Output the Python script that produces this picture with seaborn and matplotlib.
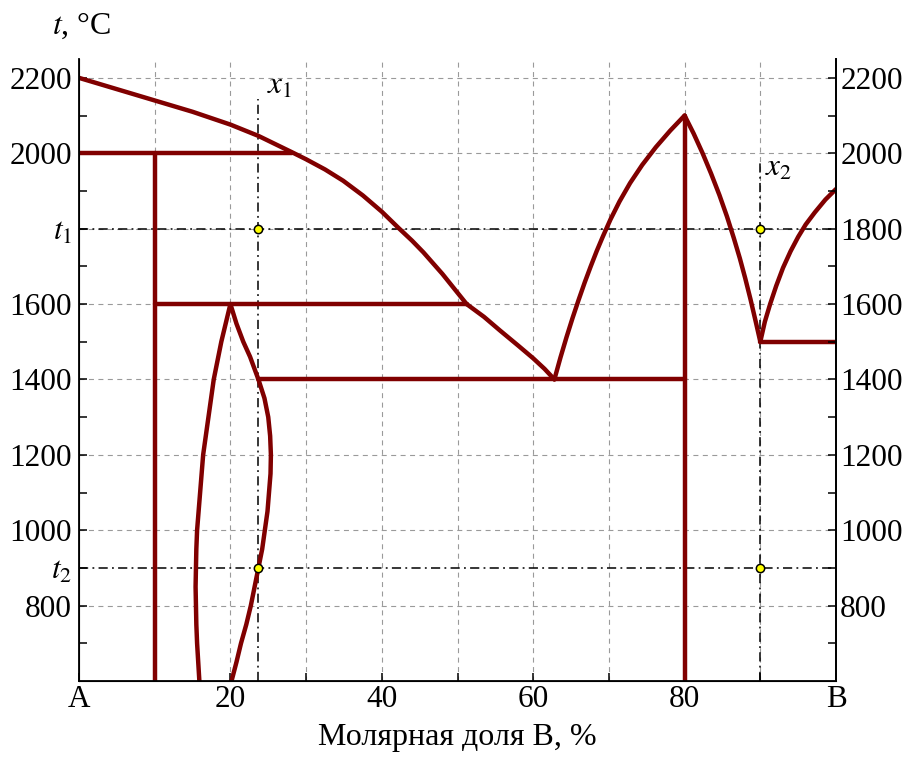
import numpy as np
import pandas as pd
import matplotlib.pyplot as plt
import seaborn as sns

# Кривые фазовой диаграммы (x - мол. доля B, %, t - °C)
liq1_x = [0, 5, 10, 15, 20, 23.7, 28.2, 30, 32.5, 34.9, 37.5, 40, 42.2, 44, 45.5, 48, 50, 51.2]
liq1_t = [2200, 2170, 2140, 2110, 2076, 2046, 2002, 1984, 1957, 1927, 1888, 1845, 1802,
          1768, 1737, 1680, 1630, 1600]
liq2_x = [51.2, 53.5, 55.6, 58, 60, 61.5, 62.8]
liq2_t = [1600, 1566, 1530, 1490, 1456, 1428, 1400]
liq3_x = [62.8, 63.6, 64.4, 65.2, 66.0, 66.8, 67.6, 68.4, 69.2, 70.2, 71.4, 72.8, 74.4,
          76.2, 78.1, 80]
liq3_t = [1400, 1458, 1512, 1563, 1611, 1657, 1700, 1741, 1779, 1824, 1872, 1921, 1969,
          2016, 2060, 2100]
liq4_x = [80, 81.2, 82.4, 83.5, 84.6, 85.6, 86.5, 87.3, 88.0, 88.7, 89.4, 90]
liq4_t = [2100, 2052, 1999, 1946, 1889, 1832, 1775, 1721, 1669, 1613, 1553, 1500]
liq5_x = [90, 90.6, 91.3, 92.1, 93.0, 94, 95, 96, 97.2, 98.6, 100]
liq5_t = [1500, 1553, 1600, 1648, 1696, 1740, 1778, 1811, 1843, 1877, 1905]

lensL_x = [20, 19.4, 18.8, 18.3, 17.8, 17.45, 17.1, 16.75, 16.4, 16.2, 16.0, 15.8, 15.6,
           15.5, 15.45, 15.4, 15.45, 15.5, 15.6, 15.75, 15.9]
lensL_t = [1600, 1550, 1500, 1450, 1400, 1350, 1300, 1250, 1200, 1150, 1100, 1050, 1000,
           950, 900, 850, 800, 750, 700, 650, 600]
lensR_x = [20, 20.8, 21.7, 22.6, 23.7, 24.5, 25.0, 25.25, 25.35, 25.3, 25.1, 24.9, 24.55,
           24.2, 23.7, 23.2, 22.7, 22.1, 21.4, 20.8, 20.15]
lensR_t = [1600, 1548, 1500, 1460, 1400, 1350, 1300, 1250, 1200, 1150, 1100, 1050, 1000,
           950, 900, 850, 800, 750, 700, 650, 600]

# прямые участки (горизонтали и вертикали)
seg_x = [[0, 28.2], [10, 10], [10, 51.2], [23.7, 80], [80, 80], [90, 100]]
seg_t = [[2000, 2000], [2000, 600], [1600, 1600], [1400, 1400], [2100, 600], [1500, 1500]]

# составы x1, x2 и температуры t1, t2
x1, x2 = 23.7, 90
t1, t2 = 1800, 900
x1_top, x2_top = 2145, 1976

xtick_pos = [0, 20, 40, 60, 80, 100]
xtick_lab = ['A', '20', '40', '60', '80', 'B']
ytick_left = [800, 900, 1000, 1200, 1400, 1600, 1800, 2000, 2200]
ytick_left_lab = ['800', '$t_2$', '1000', '1200', '1400', '1600', '$t_1$', '2000', '2200']
ytick_right = [800, 1000, 1200, 1400, 1600, 1800, 2000, 2200]
grid_t = [800, 1000, 1200, 1400, 1600, 1800, 2000, 2200]
grid_x = [10, 20, 30, 40, 50, 60, 70, 80, 90]

RED = '#800000'
FS = 22.5

sns.set_style('ticks')
plt.rcParams['font.family'] = ['Liberation Serif', 'DejaVu Serif']
plt.rcParams['mathtext.fontset'] = 'stix'
for k in ['text.color', 'axes.labelcolor', 'xtick.color', 'ytick.color', 'axes.edgecolor']:
    plt.rcParams[k] = 'black'

fig = plt.figure(figsize=(9.09, 7.62), dpi=100)
ax = fig.add_axes([79 / 909, 1 - 681 / 762, (836 - 79) / 909, (681 - 59) / 762])
ax.set_xlim(0, 100)
ax.set_ylim(600, 2250)

# сетка
for g in grid_t:
    ax.axhline(g, color='#9a9a9a', lw=0.8, ls=(0, (4.5, 4)), zorder=0.5)
for g in grid_x:
    ax.axvline(g, color='#9a9a9a', lw=0.8, ls=(0, (4.5, 4)), zorder=0.5)

# штрихпунктирные линии t1, t2, x1, x2
dd = (0, (6, 2.8, 1.2, 2.8))
for t in [t1, t2]:
    ax.axhline(t, color='black', lw=1.1, ls=dd, zorder=1.5)
sns.lineplot(x=[x1, x1], y=[600, x1_top], sort=False, estimator=None,
             color='black', lw=1.1, linestyle=dd, ax=ax, zorder=1.5)
sns.lineplot(x=[x2, x2], y=[600, x2_top], sort=False, estimator=None,
             color='black', lw=1.1, linestyle=dd, ax=ax, zorder=1.5)

curves = [(liq1_x, liq1_t), (liq2_x, liq2_t), (liq3_x, liq3_t), (liq4_x, liq4_t),
          (liq5_x, liq5_t), (lensL_x, lensL_t), (lensR_x, lensR_t)]
curves += list(zip(seg_x, seg_t))
for xs, ts in curves:
    sns.lineplot(x=xs, y=ts, sort=False, estimator=None, color=RED, lw=3.2,
                 ax=ax, zorder=2, solid_joinstyle='round')

pts = pd.DataFrame({'x': [x1, x2, x1, x2], 't': [t1, t1, t2, t2]})
sns.scatterplot(data=pts, x='x', y='t', color='yellow', edgecolor='black',
                s=36, linewidth=1.1, ax=ax, zorder=3, clip_on=False)

ax.text(24.9, 2158, '$x_1$', fontsize=FS, va='baseline')
ax.text(90.6, 1940, '$x_2$', fontsize=FS, va='baseline')

# оси
ax.spines['top'].set_visible(False)
for s in ['left', 'bottom', 'right']:
    ax.spines[s].set_linewidth(1.3)
ax.set_xticks(xtick_pos, xtick_lab)
ax.set_xticks(range(0, 101, 10), minor=True)
ax.set_yticks(ytick_left, ytick_left_lab)
ax.set_yticks(range(700, 2201, 100), minor=True)
ax.tick_params(which='both', direction='in', length=6, width=1.1,
               labelsize=FS, colors='black')
ax.tick_params(axis='y', pad=5)
ax.tick_params(axis='x', pad=3)
ax.set_xlabel('Молярная доля B, %', fontsize=23, labelpad=6)
ax.set_ylabel('')

axr = ax.twinx()
axr.set_ylim(ax.get_ylim())
axr.spines['top'].set_visible(False)
axr.spines['right'].set_linewidth(1.3)
axr.set_yticks(ytick_right, [str(v) for v in ytick_right])
axr.set_yticks(range(700, 2201, 100), minor=True)
axr.tick_params(which='both', direction='in', length=6, width=1.1,
                labelsize=FS, pad=3, colors='black')

fig.text(52 / 909, 1 - 34 / 762, '$t$, °C', fontsize=23, va='baseline')

fig.savefig('out.png', dpi=100)
